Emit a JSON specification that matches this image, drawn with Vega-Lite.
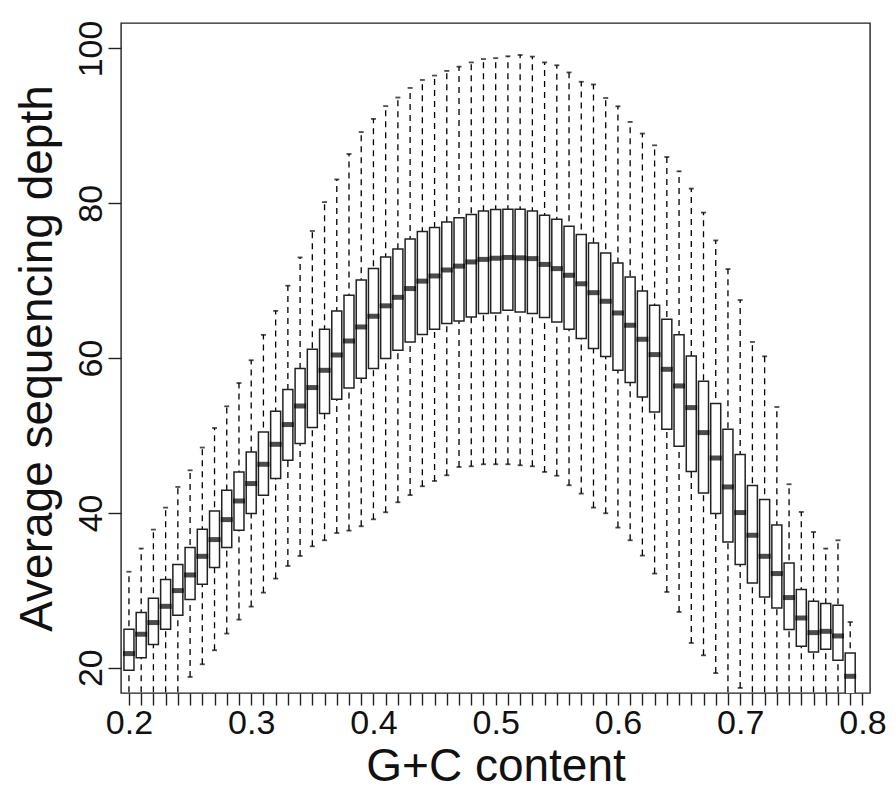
{
  "$schema": "https://vega.github.io/schema/vega-lite/v6.json",
  "autosize": "none",
  "width": 749,
  "height": 670,
  "padding": {"left": 121, "top": 23, "right": 26, "bottom": 103},
  "background": "white",
  "config": {
    "font": "Liberation Sans",
    "view": {"stroke": "#222", "strokeWidth": 1.4}
  },
  "data": {"values": [
    {"gc": 0.20, "lo": 14, "q1": 19.66, "med": 21.82, "q3": 24.96, "hi": 32.4},
    {"gc": 0.21, "lo": 14, "q1": 21.3, "med": 24.32, "q3": 27.12, "hi": 35.39},
    {"gc": 0.22, "lo": 14, "q1": 22.98, "med": 25.83, "q3": 28.97, "hi": 37.84},
    {"gc": 0.23, "lo": 14, "q1": 24.96, "med": 27.93, "q3": 31.38, "hi": 40.68},
    {"gc": 0.24, "lo": 14, "q1": 26.77, "med": 29.96, "q3": 33.32, "hi": 43.35},
    {"gc": 0.25, "lo": 18.8, "q1": 28.8, "med": 31.98, "q3": 35.52, "hi": 45.5},
    {"gc": 0.26, "lo": 20.44, "q1": 30.78, "med": 34.39, "q3": 37.88, "hi": 48.44},
    {"gc": 0.27, "lo": 22.25, "q1": 32.93, "med": 36.55, "q3": 40.25, "hi": 50.97},
    {"gc": 0.28, "lo": 24.41, "q1": 35.52, "med": 39.13, "q3": 42.92, "hi": 53.77},
    {"gc": 0.29, "lo": 26.21, "q1": 37.75, "med": 41.54, "q3": 45.28, "hi": 56.78},
    {"gc": 0.30, "lo": 27.89, "q1": 39.91, "med": 43.79, "q3": 47.87, "hi": 59.72},
    {"gc": 0.31, "lo": 29.7, "q1": 42.27, "med": 46.28, "q3": 50.45, "hi": 63.0},
    {"gc": 0.32, "lo": 31.51, "q1": 44.43, "med": 48.86, "q3": 53.13, "hi": 66.1},
    {"gc": 0.33, "lo": 33.14, "q1": 46.8, "med": 51.41, "q3": 55.93, "hi": 69.35},
    {"gc": 0.34, "lo": 34.43, "q1": 48.95, "med": 53.81, "q3": 58.64, "hi": 73.0},
    {"gc": 0.35, "lo": 35.68, "q1": 51.02, "med": 56.19, "q3": 61.14, "hi": 76.42},
    {"gc": 0.36, "lo": 36.46, "q1": 52.83, "med": 58.42, "q3": 63.72, "hi": 80.15},
    {"gc": 0.37, "lo": 37.4, "q1": 54.68, "med": 60.4, "q3": 66.09, "hi": 83.08},
    {"gc": 0.38, "lo": 37.71, "q1": 56.14, "med": 62.21, "q3": 68.11, "hi": 86.37},
    {"gc": 0.39, "lo": 38.27, "q1": 57.4, "med": 64.02, "q3": 70.1, "hi": 89.2},
    {"gc": 0.40, "lo": 39.17, "q1": 58.64, "med": 65.4, "q3": 71.56, "hi": 90.9},
    {"gc": 0.41, "lo": 40.08, "q1": 59.93, "med": 66.75, "q3": 73.06, "hi": 92.55},
    {"gc": 0.42, "lo": 41.37, "q1": 61.01, "med": 67.85, "q3": 74.1, "hi": 93.66},
    {"gc": 0.43, "lo": 42.3, "q1": 62.08, "med": 68.98, "q3": 75.4, "hi": 94.9},
    {"gc": 0.44, "lo": 43.44, "q1": 63.04, "med": 69.94, "q3": 76.34, "hi": 95.93},
    {"gc": 0.45, "lo": 44.12, "q1": 63.72, "med": 70.61, "q3": 76.86, "hi": 96.5},
    {"gc": 0.46, "lo": 44.86, "q1": 64.46, "med": 71.38, "q3": 77.59, "hi": 97.1},
    {"gc": 0.47, "lo": 45.93, "q1": 64.79, "med": 71.88, "q3": 78.12, "hi": 97.65},
    {"gc": 0.48, "lo": 46.02, "q1": 65.31, "med": 72.42, "q3": 78.54, "hi": 98.2},
    {"gc": 0.49, "lo": 46.28, "q1": 65.75, "med": 72.75, "q3": 79.01, "hi": 98.63},
    {"gc": 0.50, "lo": 46.28, "q1": 65.83, "med": 72.9, "q3": 79.19, "hi": 98.75},
    {"gc": 0.51, "lo": 46.28, "q1": 66.18, "med": 73.0, "q3": 79.22, "hi": 98.99},
    {"gc": 0.52, "lo": 46.15, "q1": 65.96, "med": 72.95, "q3": 79.22, "hi": 99.16},
    {"gc": 0.53, "lo": 46.02, "q1": 65.75, "med": 72.85, "q3": 79.01, "hi": 98.95},
    {"gc": 0.54, "lo": 45.29, "q1": 65.23, "med": 72.1, "q3": 78.45, "hi": 98.2},
    {"gc": 0.55, "lo": 44.8, "q1": 64.67, "med": 71.56, "q3": 77.93, "hi": 97.83},
    {"gc": 0.56, "lo": 43.57, "q1": 63.72, "med": 70.7, "q3": 77.03, "hi": 96.9},
    {"gc": 0.57, "lo": 42.49, "q1": 62.52, "med": 69.6, "q3": 75.96, "hi": 95.7},
    {"gc": 0.58, "lo": 40.68, "q1": 61.23, "med": 68.45, "q3": 74.87, "hi": 95.35},
    {"gc": 0.59, "lo": 39.95, "q1": 60.2, "med": 67.34, "q3": 73.58, "hi": 93.6},
    {"gc": 0.60, "lo": 38.1, "q1": 58.42, "med": 65.83, "q3": 72.29, "hi": 92.53},
    {"gc": 0.61, "lo": 36.46, "q1": 56.83, "med": 64.24, "q3": 70.48, "hi": 90.51},
    {"gc": 0.62, "lo": 34.48, "q1": 54.97, "med": 62.43, "q3": 68.67, "hi": 89.01},
    {"gc": 0.63, "lo": 32.16, "q1": 53.04, "med": 60.45, "q3": 66.82, "hi": 87.49},
    {"gc": 0.64, "lo": 29.78, "q1": 50.8, "med": 58.55, "q3": 65.01, "hi": 85.98},
    {"gc": 0.65, "lo": 27.2, "q1": 48.6, "med": 56.4, "q3": 63.0, "hi": 84.13},
    {"gc": 0.66, "lo": 23.19, "q1": 45.34, "med": 53.6, "q3": 60.27, "hi": 81.9},
    {"gc": 0.67, "lo": 21.6, "q1": 42.57, "med": 50.37, "q3": 57.0, "hi": 78.8},
    {"gc": 0.68, "lo": 19.3, "q1": 39.91, "med": 47.09, "q3": 54.12, "hi": 75.2},
    {"gc": 0.69, "lo": 14, "q1": 36.24, "med": 43.35, "q3": 50.8, "hi": 71.5},
    {"gc": 0.70, "lo": 17.38, "q1": 33.32, "med": 40.04, "q3": 47.53, "hi": 67.5},
    {"gc": 0.71, "lo": 14, "q1": 30.94, "med": 37.11, "q3": 43.53, "hi": 62.08},
    {"gc": 0.72, "lo": 14, "q1": 29.13, "med": 34.39, "q3": 41.72, "hi": 60.23},
    {"gc": 0.73, "lo": 14, "q1": 27.71, "med": 32.16, "q3": 38.44, "hi": 53.68},
    {"gc": 0.74, "lo": 14, "q1": 24.92, "med": 29.06, "q3": 33.53, "hi": 43.7},
    {"gc": 0.75, "lo": 14, "q1": 22.76, "med": 26.42, "q3": 30.09, "hi": 40.12},
    {"gc": 0.76, "lo": 14, "q1": 22.03, "med": 24.53, "q3": 28.58, "hi": 37.53},
    {"gc": 0.77, "lo": 14, "q1": 22.38, "med": 24.7, "q3": 28.28, "hi": 35.39},
    {"gc": 0.78, "lo": 14, "q1": 20.96, "med": 24.1, "q3": 28.06, "hi": 36.46},
    {"gc": 0.79, "lo": 14, "q1": 16.5, "med": 18.89, "q3": 21.9, "hi": 25.9}
  ]},
  "encoding": {
    "x": {
      "field": "gc", "type": "quantitative",
      "scale": {"domain": [0.19758, 0.80211], "nice": false, "zero": false},
      "axis": {
        "title": "G+C content",
        "values": [0.2,0.21,0.22,0.23,0.24,0.25,0.26,0.27,0.28,0.29,0.3,0.31,0.32,0.33,0.34,0.35,0.36,0.37,0.38,0.39,0.4,0.41,0.42,0.43,0.44,0.45,0.46,0.47,0.48,0.49,0.5,0.51,0.52,0.53,0.54,0.55,0.56,0.57,0.58,0.59,0.6,0.61,0.62,0.63,0.64,0.65,0.66,0.67,0.68,0.69,0.7,0.71,0.72,0.73,0.74,0.75,0.76,0.77,0.78,0.79,0.8],
        "labelExpr": "round(datum.value*100) % 10 == 0 ? format(datum.value, '.1f') : ''",
        "labelOverlap": false,
        "labelFlush": false,
        "labelBound": false,
        "domain": false,
        "grid": false,
        "ticks": true,
        "tickSize": 12,
        "tickColor": "#222",
        "tickWidth": 1.4,
        "labelFontSize": 34,
        "labelColor": "#111",
        "labelPadding": 1,
        "labelDx": 3,
        "titleFontSize": 46,
        "titleFontWeight": "normal",
        "titleColor": "#111",
        "titleBaseline": "alphabetic",
        "titleY": 87
      }
    }
  },
  "layer": [
    {
      "mark": {"type": "rule", "strokeDash": [6, 5], "color": "#000", "strokeWidth": 1.3, "clip": true},
      "encoding": {
        "y": {
          "field": "lo", "type": "quantitative",
          "scale": {"domain": [16.73, 103.29], "nice": false, "zero": false},
          "axis": {
            "title": "Average sequencing depth",
            "values": [20, 40, 60, 80, 100],
            "domain": false,
            "grid": false,
            "tickSize": 13,
            "tickColor": "#222",
            "tickWidth": 1.4,
            "labelAngle": -90,
            "labelAlign": "center",
            "labelBaseline": "alphabetic",
            "labelFontSize": 34,
            "labelColor": "#111",
            "labelPadding": 7,
            "titleFontSize": 46,
            "titleFontWeight": "normal",
            "titleColor": "#111",
            "titleBaseline": "alphabetic",
            "titleX": -70
          }
        },
        "y2": {"field": "hi"}
      }
    },
    {
      "mark": {"type": "tick", "orient": "horizontal", "size": 5, "thickness": 1.8, "color": "#000", "clip": true},
      "encoding": {"y": {"field": "hi", "type": "quantitative"}}
    },
    {
      "mark": {"type": "tick", "orient": "horizontal", "size": 5, "thickness": 1.8, "color": "#000", "clip": true},
      "encoding": {"y": {"field": "lo", "type": "quantitative"}}
    },
    {
      "mark": {"type": "bar", "width": 10, "fill": "white", "stroke": "#222", "strokeWidth": 1.5, "clip": true},
      "encoding": {
        "y": {"field": "q1", "type": "quantitative"},
        "y2": {"field": "q3"}
      }
    },
    {
      "mark": {"type": "tick", "orient": "horizontal", "size": 12, "thickness": 5, "color": "#000", "clip": true},
      "encoding": {"y": {"field": "med", "type": "quantitative"}}
    }
  ]
}
